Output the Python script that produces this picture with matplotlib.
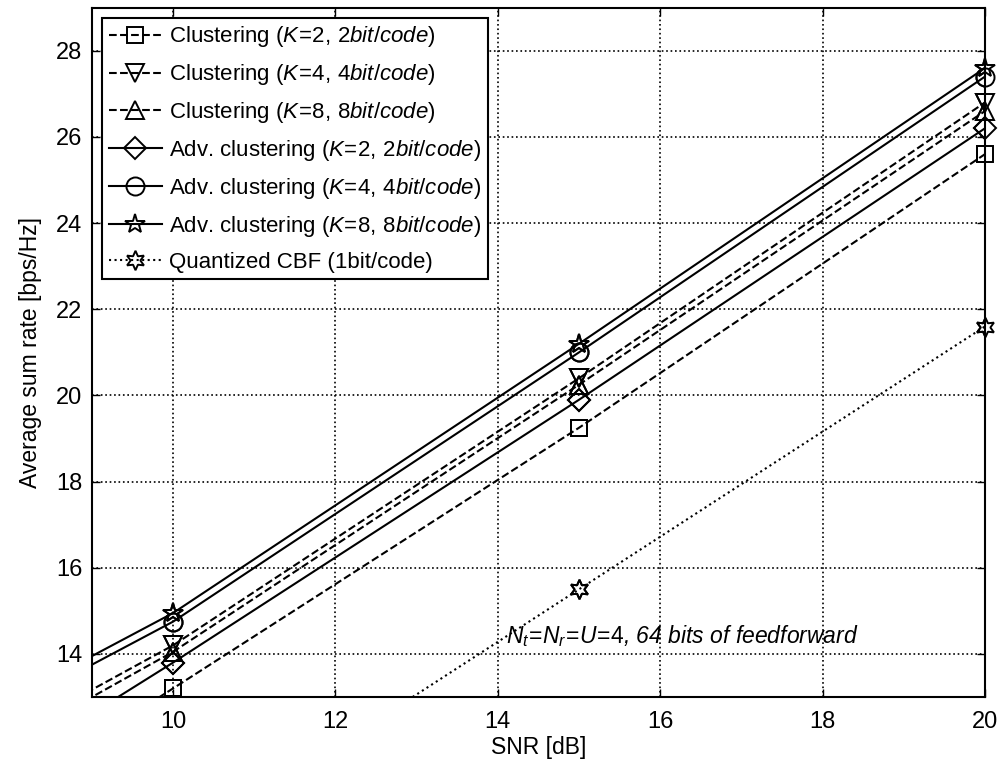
import numpy as np
import matplotlib.pyplot as plt

plt.rcParams['font.family'] = ['Liberation Sans', 'DejaVu Sans']
plt.rcParams['mathtext.fontset'] = 'custom'
plt.rcParams['mathtext.it'] = 'Liberation Sans:italic'
plt.rcParams['mathtext.rm'] = 'Liberation Sans'

# SNR points (first point sits left of the visible range)
snr = [5, 10, 15, 20]

clu_k2 = [7.2, 13.2, 19.25, 25.6]
clu_k4 = [9.05, 14.2, 20.4, 26.8]
clu_k8 = [8.8, 14.05, 20.25, 26.6]
adv_k2 = [7.9, 13.8, 19.9, 26.2]
adv_k4 = [9.75, 14.75, 21.0, 27.4]
adv_k8 = [9.95, 14.95, 21.2, 27.6]
cbf = [3.5, 9.4, 15.5, 21.6]

labels = [
    r"Clustering ($\mathit{K\!=\!2,\,2bit/code}$)",
    r"Clustering ($\mathit{K\!=\!4,\,4bit/code}$)",
    r"Clustering ($\mathit{K\!=\!8,\,8bit/code}$)",
    r"Adv. clustering ($\mathit{K\!=\!2,\,2bit/code}$)",
    r"Adv. clustering ($\mathit{K\!=\!4,\,4bit/code}$)",
    r"Adv. clustering ($\mathit{K\!=\!8,\,8bit/code}$)",
    "Quantized CBF (1bit/code)",
]
series = [clu_k2, clu_k4, clu_k8, adv_k2, adv_k4, adv_k8, cbf]
styles = [('--', 's'), ('--', 'v'), ('--', '^'), ('-', 'D'), ('-', 'o'), ('-', '*'), (':', (6, 1, 0))]
msizes = [11, 13, 13, 11, 13, 15, 14]

fig = plt.figure(figsize=(10.05, 7.74), dpi=100)
ax = fig.add_axes([0.0915, 0.0995, 0.8885, 0.8905])

for y, lab, (ls, mk), ms in zip(series, labels, styles, msizes):
    ax.plot(snr, y, color='black', linestyle=ls, linewidth=1.5, marker=mk,
            markersize=ms, markerfacecolor='none', markeredgewidth=1.4,
            markevery=[1, 2, 3], label=lab)
    # markers on the right edge should not be cut off
    ax.plot(snr[1:], y[1:], linestyle='none', marker=mk, markersize=ms,
            markerfacecolor='none', markeredgecolor='black',
            markeredgewidth=1.4, clip_on=False)

ax.set_xlim(9, 20)
ax.set_ylim(13, 29)
ax.set_xticks([10, 12, 14, 16, 18, 20])
ax.set_yticks([14, 16, 18, 20, 22, 24, 26, 28])
ax.tick_params(direction='in', labelsize=17, length=6, top=True, right=True, width=1)
ax.tick_params(axis='x', pad=10)
ax.tick_params(axis='y', pad=7)
ax.grid(True, linestyle=':', color='black', linewidth=1.2)
for s in ax.spines.values():
    s.set_linewidth(1.5)

ax.set_xlabel("SNR [dB]", fontsize=16.5, labelpad=2)
ax.set_ylabel("Average sum rate [bps/Hz]", fontsize=16.5, labelpad=10)

ax.text(14.1, 14.25, r"$N_t\!=\!N_r\!=\!U\!=\!4$, 64 bits of feedforward",
        fontsize=16.5, style='italic')

leg = ax.legend(loc='upper left', fontsize=16, frameon=True, fancybox=False,
                framealpha=1, edgecolor='black', handlelength=2.4,
                handletextpad=0.3, labelspacing=0.58, borderpad=0.3,
                borderaxespad=0.45)
leg.get_frame().set_linewidth(1.5)

fig.savefig("out.png", dpi=100)
